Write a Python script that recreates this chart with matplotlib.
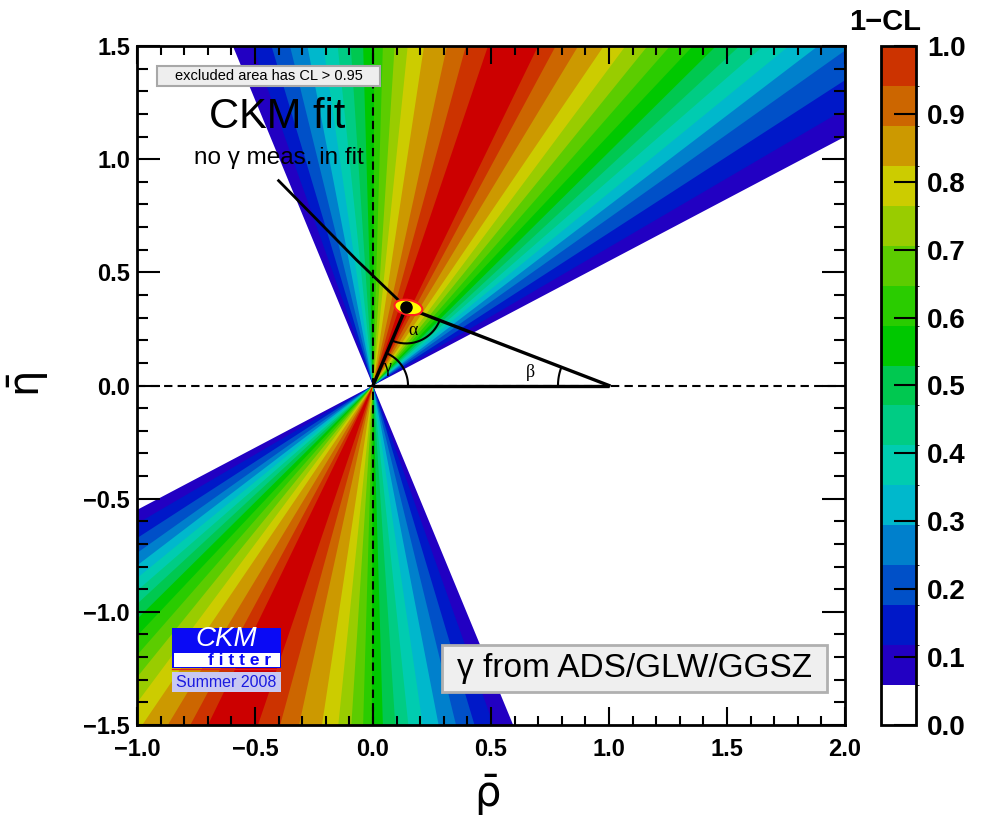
import numpy as np
import matplotlib
matplotlib.use("Agg")
import matplotlib.pyplot as plt
from matplotlib.patches import Wedge, Rectangle, Ellipse
from matplotlib.colors import ListedColormap, BoundaryNorm
from matplotlib.cm import ScalarMappable

plt.rcParams['font.family'] = ['Liberation Sans', 'DejaVu Sans']
plt.rcParams['mathtext.fontset'] = 'dejavusans'

# 1-CL contour levels and their fill colours (first band left white)
cl_levels = list(np.linspace(0.0, 1.0, 18))
band_colors = ['#ffffff', '#2200c2', '#0018c8', '#0050c8', '#0080cc',
               '#00b8cc', '#00ccb0', '#00cc84', '#00c850', '#00c800',
               '#2acc00', '#5ccc00', '#99cc00', '#cccc00', '#cc9900',
               '#cc6600', '#cc3300']
peak_color = '#cc0000'

# angle of rho+i*eta (deg) where 1-CL crosses level k/17, k=1..16
gamma_low = [28.8, 31.4, 34.0, 36.5, 38.5, 40.4, 42.2, 44.0, 45.9, 47.9,
             50.0, 52.2, 54.5, 56.9, 59.9, 62.7]
gamma_high = [111.6, 108.8, 106.0, 103.2, 100.5, 98.0, 95.7, 93.6, 91.6,
              89.8, 88.4, 86.5, 84.4, 81.8, 78.2, 75.3]
gamma_peak = [65.0, 72.0]

# unitarity triangle apex from the global fit
apex_rho = 0.14
apex_eta = 0.345
# line from the caption down to the apex
pointer_rho = [-0.40, -0.07, apex_rho]
pointer_eta = [0.905, 0.555, apex_eta]

x_ticks = [-1.0, -0.5, 0.0, 0.5, 1.0, 1.5, 2.0]
y_ticks = [-1.5, -1.0, -0.5, 0.0, 0.5, 1.0, 1.5]
cb_ticks = [0.0, 0.1, 0.2, 0.3, 0.4, 0.5, 0.6, 0.7, 0.8, 0.9, 1.0]


def fmt(v):
    return ('%.1f' % v).replace('-', '\u2212')


W, H = 984, 826
fig = plt.figure(figsize=(W / 100, H / 100), dpi=100)
ax = fig.add_axes([137 / W, 101 / H, 708 / W, 679 / H])
ax.set_xlim(-1.0, 2.0)
ax.set_ylim(-1.5, 1.5)

# nested wedges, both directions through the origin
for k in range(1, 17):
    for off in (0, 180):
        ax.add_patch(Wedge((0, 0), 6, gamma_low[k - 1] + off, gamma_high[k - 1] + off,
                           facecolor=band_colors[k], edgecolor='none', lw=0, zorder=1))
for off in (0, 180):
    ax.add_patch(Wedge((0, 0), 6, gamma_peak[0] + off, gamma_peak[1] + off,
                       facecolor=peak_color, edgecolor='none', lw=0, zorder=1))

# axes through origin
ax.axhline(0, color='k', lw=1.5, ls=(0, (4, 2.5)), zorder=3)
ax.axvline(0, color='k', lw=1.5, ls=(0, (4, 2.5)), zorder=3)

# triangle
ax.plot([0, 1], [0, 0], color='k', lw=2.4, zorder=4, solid_capstyle='butt')
ax.plot([0, apex_rho, 1], [0, apex_eta, 0], color='k', lw=2.4, zorder=4)
ax.plot(pointer_rho, pointer_eta, color='k', lw=2.0, zorder=4)

sx = ax.bbox.width / 3.0
sy = ax.bbox.height / 3.0


def pix_angle(dx, dy):
    return np.degrees(np.arctan2(dy * sy, dx * sx))


def arc(cx, cy, r, a1, a2):
    t = np.radians(np.linspace(a1, a2, 80))
    ax.plot(cx + r * np.cos(t) / sx, cy + r * np.sin(t) / sy, color='k', lw=1.5, zorder=4)


arc(0, 0, 35, 0, pix_angle(apex_rho, apex_eta))
arc(apex_rho, apex_eta, 36, pix_angle(-apex_rho, -apex_eta),
    pix_angle(1 - apex_rho, -apex_eta))
arc(1, 0, 51, pix_angle(apex_rho - 1, apex_eta), 180)

greek = dict(family=['Liberation Serif', 'DejaVu Serif'], fontsize=13, ha='center', va='center', zorder=5)
ax.text(0.061, 0.080, 'γ', **greek)
ax.text(0.171, 0.245, 'α', **greek)
ax.text(0.668, 0.058, 'β', **greek)

# fit result at the apex
ax.add_patch(Ellipse((apex_rho + 0.01, apex_eta), 0.12, 0.065, angle=-12,
                     facecolor='#ffff00', edgecolor='#ff2020', lw=1.5, zorder=5))
ax.plot([apex_rho], [apex_eta], 'o', color='k', ms=8, zorder=6)

# captions
ax.add_patch(Rectangle((-0.915, 1.323), 0.945, 0.089, facecolor='#eeeeee',
                       edgecolor='#a8a8a8', lw=1.5, zorder=6))
ax.text(-0.443, 1.367, 'excluded area has CL > 0.95', fontsize=10.5,
        ha='center', va='center', zorder=7)
ax.text(-0.405, 1.188, 'CKM fit', fontsize=30, ha='center', va='center', zorder=7)
ax.text(-0.40, 1.005, 'no γ meas. in fit', fontsize=17.5, ha='center', va='center', zorder=7)

ax.add_patch(Rectangle((0.292, -1.355), 1.632, 0.208, facecolor='#efefef',
                       edgecolor='#b0b0b0', lw=2, zorder=6))
ax.text(1.108, -1.251, 'γ from ADS/GLW/GGSZ', fontsize=24, ha='center', va='center', zorder=7)

# logo
ax.add_patch(Rectangle((-0.852, -1.249), 0.462, 0.177, facecolor='#0a0af5',
                       edgecolor='none', zorder=6))
ax.add_patch(Rectangle((-0.845, -1.245), 0.450, 0.064, facecolor='white',
                       edgecolor='none', zorder=7))
ax.plot([-0.852, -0.390], [-1.252, -1.252], color='#e02020', lw=1, zorder=7)
ax.text(-0.623, -1.118, 'CKM', fontsize=20, style='italic', color='white',
        ha='center', va='center', zorder=8)
ax.text(-0.566, -1.214, 'f i t t e r', fontsize=12.5, weight='bold', color='#0a0af5',
        ha='center', va='center', zorder=8)
ax.add_patch(Rectangle((-0.852, -1.355), 0.462, 0.089, facecolor='#c8c8f2',
                       edgecolor='none', zorder=6))
ax.text(-0.621, -1.311, 'Summer 2008', fontsize=11.5, color='#1a1ae0',
        ha='center', va='center', zorder=8)

# axis cosmetics
ax.set_xticks(x_ticks)
ax.set_yticks(y_ticks)
ax.set_xticks(np.arange(-1.0, 2.01, 0.1), minor=True)
ax.set_yticks(np.arange(-1.5, 1.51, 0.1), minor=True)
ax.set_xticklabels([fmt(v) for v in x_ticks])
ax.set_yticklabels([fmt(v) for v in y_ticks])
ax.xaxis.set_tick_params(which='major', direction='in', length=13, width=1.5,
                         top=True, labelsize=17, pad=9)
ax.xaxis.set_tick_params(which='minor', direction='in', length=6.5, width=1.5, top=True)
ax.yaxis.set_tick_params(which='major', direction='in', length=16.5, width=1.5,
                         right=True, labelsize=17, pad=5)
ax.yaxis.set_tick_params(which='minor', direction='in', length=8, width=1.5, right=True)
for lab in ax.get_xticklabels() + ax.get_yticklabels():
    lab.set_fontweight('bold')
for sp in ax.spines.values():
    sp.set_linewidth(2)
    sp.set_zorder(10)

fig.text(487 / W, 1 - 795 / H, r'$\bar{\mathrm{\rho}}$', fontsize=30, ha='center', va='center')
fig.text(28 / W, 1 - 385 / H, r'$\bar{\mathrm{\eta}}$', fontsize=30, ha='center', va='center',
         rotation=90)

# colour scale
cax = fig.add_axes([881 / W, 101 / H, 35 / W, 679 / H])
sm = ScalarMappable(norm=BoundaryNorm(cl_levels, len(band_colors)), cmap=ListedColormap(band_colors))
cb = fig.colorbar(sm, cax=cax, ticks=cb_ticks)
cb.set_ticklabels([fmt(v) for v in cb_ticks])
cb.outline.set_linewidth(2)
cax.tick_params(direction='in', length=16, width=1.5, labelsize=20, pad=8)
for lab in cax.get_yticklabels():
    lab.set_fontweight('bold')
fig.text(885 / W, 1 - 22 / H, '1\u2212CL', fontsize=21, weight='bold', ha='center', va='center')

fig.savefig('out.png', dpi=100)
